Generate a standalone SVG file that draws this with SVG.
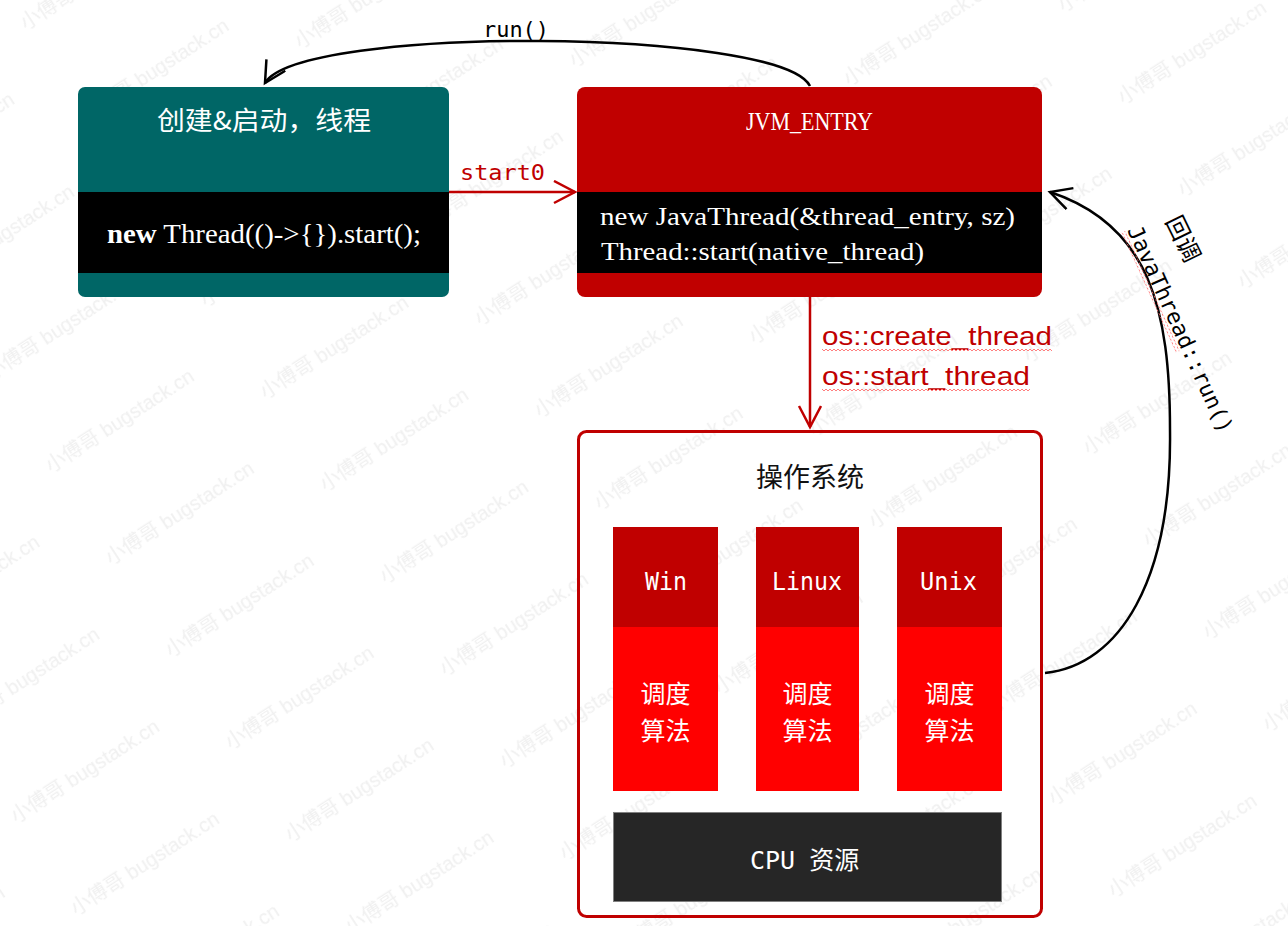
<svg xmlns="http://www.w3.org/2000/svg" width="1288" height="926" viewBox="0 0 1288 926">
<defs>
<style>
.wm{font-family:"Liberation Sans","Noto Sans CJK SC",sans-serif;font-size:20px;fill:#f0f0f0}
.cjk{font-family:"Noto Sans CJK SC",sans-serif}
.serif{font-family:"Liberation Serif","Noto Sans CJK SC",serif}
.mono{font-family:"DejaVu Sans Mono","Liberation Mono",monospace}
.sans{font-family:"Liberation Sans","Noto Sans CJK SC",sans-serif}
.white{fill:#ffffff}
.conn{fill:none;stroke-width:2.5}
.red{stroke:#c00000}
.blk{stroke:#000000}
.redtxt{fill:#c00000}
.algo{font-size:25px}
</style>
<pattern id="wmp" patternUnits="userSpaceOnUse" width="440" height="110" patternTransform="rotate(-33)">
<text class="wm" x="5" y="40">小傅哥 bugstack.cn</text>
<text class="wm" x="225" y="95">小傅哥 bugstack.cn</text>
</pattern>
<pattern id="wavy" patternUnits="userSpaceOnUse" width="4" height="4">
<path d="M0,3 L2,1 L4,3" fill="none" stroke="#ff7070" stroke-width="0.9"/>
</pattern>
<marker id="arrR" markerUnits="userSpaceOnUse" markerWidth="26" markerHeight="26" refX="22" refY="12" orient="auto">
<path d="M1,1 L22,12 L1,23" fill="none" stroke="#c00000" stroke-width="2.5"/>
</marker>
<marker id="arrB" markerUnits="userSpaceOnUse" markerWidth="26" markerHeight="26" refX="22" refY="12" orient="auto">
<path d="M1,1 L22,12 L1,23" fill="none" stroke="#000000" stroke-width="2.5"/>
</marker>
</defs>
<rect x="0" y="0" width="1288" height="926" fill="#ffffff"/>
<g id="watermark">
<rect x="0" y="0" width="1288" height="926" fill="url(#wmp)"/>
</g>

<g id="connectors">
<path id="c-start0" class="conn red" d="M449,192 L575,192" marker-end="url(#arrR)"/>
<text class="mono redtxt" x="460" y="180" font-size="22" textLength="85" lengthAdjust="spacingAndGlyphs">start0</text>
<path id="c-run" class="conn blk" d="M810,86 C780,28 300,25 265,83" marker-end="url(#arrB)"/>
<text class="mono" x="483" y="37" font-size="21" textLength="66" lengthAdjust="spacingAndGlyphs" fill="#000">run()</text>
<path id="c-os" class="conn red" d="M810,297 L810,427" marker-end="url(#arrR)"/>
<text class="sans redtxt" x="822" y="345" font-size="26" textLength="230" lengthAdjust="spacingAndGlyphs">os::create_thread</text>
<rect x="822" y="348" width="230" height="4" fill="url(#wavy)"/>
<text class="sans redtxt" x="822" y="385" font-size="26" textLength="208" lengthAdjust="spacingAndGlyphs">os::start_thread</text>
<rect x="822" y="388" width="208" height="4" fill="url(#wavy)"/>
<path id="c-callback" class="conn blk" d="M1045,673 C1120,665 1172,580 1170,430 C1170,310 1150,225 1050,192" marker-end="url(#arrB)"/>
<g transform="translate(1165,221) rotate(64)">
<text class="cjk" x="0" y="0" font-size="24" fill="#000">回调</text>
</g>
<g transform="translate(1127,230) rotate(65.6)">
<text class="mono" x="0" y="0" font-size="22" textLength="225" lengthAdjust="spacingAndGlyphs" fill="#000">JavaThread::run()</text>
<rect x="0" y="2" width="132" height="4" fill="url(#wavy)"/>
</g>
</g>

<g id="node-create">
<rect x="78" y="87" width="371" height="210" rx="7" fill="#006666"/>
<rect x="78" y="192" width="371" height="81" fill="#000000"/>
<text class="cjk white" x="264" y="130" font-size="26" text-anchor="middle" textLength="214" lengthAdjust="spacingAndGlyphs">创建&amp;启动，线程</text>
<text class="serif white" x="107" y="243" font-size="27" textLength="314" lengthAdjust="spacingAndGlyphs"><tspan font-weight="bold">new</tspan> Thread(()-&gt;{}).start();</text>
</g>

<g id="node-jvm">
<rect x="577" y="87" width="465" height="210" rx="8" fill="#c00000"/>
<rect x="577" y="192" width="465" height="81" fill="#000000"/>
<text class="serif white" x="746" y="130" font-size="26" textLength="127" lengthAdjust="spacingAndGlyphs">JVM_ENTRY</text>
<text class="serif white" x="600" y="225" font-size="26" textLength="415" lengthAdjust="spacingAndGlyphs">new JavaThread(&amp;thread_entry, sz)</text>
<text class="serif white" x="601" y="260" font-size="26" textLength="323" lengthAdjust="spacingAndGlyphs">Thread::start(native_thread)</text>
</g>

<g id="node-os">
<rect x="578.5" y="431.5" width="463" height="485" rx="8" fill="none" stroke="#c00000" stroke-width="3"/>
<text class="cjk" x="810" y="487" font-size="27" text-anchor="middle" fill="#111">操作系统</text>
</g>

<g id="node-win">
<rect x="613" y="527" width="105" height="100" fill="#c00000"/>
<rect x="613" y="627" width="105" height="164" fill="#ff0000"/>
<text class="mono white" x="645" y="590" font-size="25" textLength="42" lengthAdjust="spacingAndGlyphs">Win</text>
<text class="cjk white algo" x="665.5" y="703" text-anchor="middle">调度</text>
<text class="cjk white algo" x="665.5" y="740" text-anchor="middle">算法</text>
</g>

<g id="node-linux">
<rect x="756" y="527" width="103" height="100" fill="#c00000"/>
<rect x="756" y="627" width="103" height="164" fill="#ff0000"/>
<text class="mono white" x="772" y="590" font-size="25" textLength="70" lengthAdjust="spacingAndGlyphs">Linux</text>
<text class="cjk white algo" x="807.5" y="703" text-anchor="middle">调度</text>
<text class="cjk white algo" x="807.5" y="740" text-anchor="middle">算法</text>
</g>

<g id="node-unix">
<rect x="897" y="527" width="105" height="100" fill="#c00000"/>
<rect x="897" y="627" width="105" height="164" fill="#ff0000"/>
<text class="mono white" x="920" y="590" font-size="25" textLength="57" lengthAdjust="spacingAndGlyphs">Unix</text>
<text class="cjk white algo" x="949.5" y="703" text-anchor="middle">调度</text>
<text class="cjk white algo" x="949.5" y="740" text-anchor="middle">算法</text>
</g>

<g id="node-cpu">
<rect x="613.5" y="812.5" width="388" height="89" fill="#262626" stroke="#808080" stroke-width="1"/>
<text x="750" y="869" font-size="25" fill="#ffffff"><tspan class="mono">CPU</tspan><tspan class="cjk" dx="14">资源</tspan></text>
</g>
</svg>
